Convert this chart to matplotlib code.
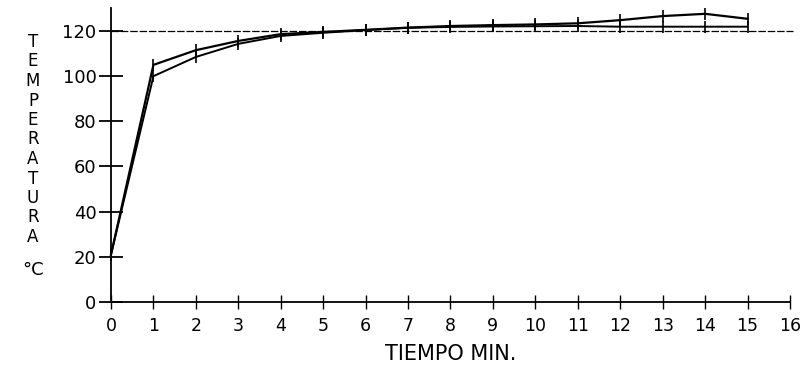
import matplotlib
matplotlib.use("Agg")
import matplotlib.pyplot as plt

tiempo = [0, 1, 2, 3, 4, 5, 6, 7, 8, 9, 10, 11, 12, 13, 14, 15]
serie_sup = [21, 105, 111.5, 115.6, 118.6, 119.6, 120.5, 121.5, 122.2, 122.6, 122.9, 123.4, 124.8, 126.6, 127.6, 125.4]
serie_inf = [21, 100, 108.5, 114.3, 117.8, 119.2, 120.4, 121.4, 121.8, 122.0, 122.1, 122.2, 121.9, 121.9, 121.9, 121.9]
referencia = 120
xticks = list(range(0, 17))
yticks = [0, 20, 40, 60, 80, 100, 120]

plt.rcParams['font.family'] = ['DejaVu Sans']

fig = plt.figure(figsize=(8.03, 3.72), dpi=100)
W, H = 803, 372
x0, x1 = 111, 790
y0, ytop = 302, 8.4
ax = fig.add_axes([x0 / W, (H - y0) / H, (x1 - x0) / W, (y0 - ytop) / H])
ax.set_xlim(0, 16)
ax.set_ylim(0, 130)

for s in ['top', 'right']:
    ax.spines[s].set_visible(False)
for s in ['left', 'bottom']:
    ax.spines[s].set_linewidth(1.3)
    ax.spines[s].set_color('black')

ax.set_xticks(xticks)
ax.set_yticks(yticks)
ax.tick_params(axis='y', direction='inout', length=17, width=1.3, labelsize=13, pad=2)
ax.tick_params(axis='x', direction='inout', length=10, width=1.0, labelsize=12.5, pad=6)

ax.plot([0, 16.08], [referencia, referencia], color='black', lw=0.9,
        linestyle=(0, (6, 1.5)), clip_on=False)

ax.plot(tiempo, serie_inf, color='black', lw=1.4, marker='|', ms=8, mew=1.2, clip_on=False)
ax.plot(tiempo, serie_sup, color='black', lw=1.6, marker='|', ms=8, mew=1.2, clip_on=False)

ax.set_xlabel('TIEMPO MIN.', fontsize=15, labelpad=6)

letters = 'TEMPERATURA'
ytop_l, ybot_l = 42, 237
for i, ch in enumerate(letters):
    yy = ytop_l + i * (ybot_l - ytop_l) / (len(letters) - 1)
    fig.text(33 / W, 1 - yy / H, ch, fontsize=12, ha='center', va='center')
fig.text(33 / W, 1 - 270 / H, '°C', fontsize=13, ha='center', va='center')

fig.savefig('out.png', dpi=100)
